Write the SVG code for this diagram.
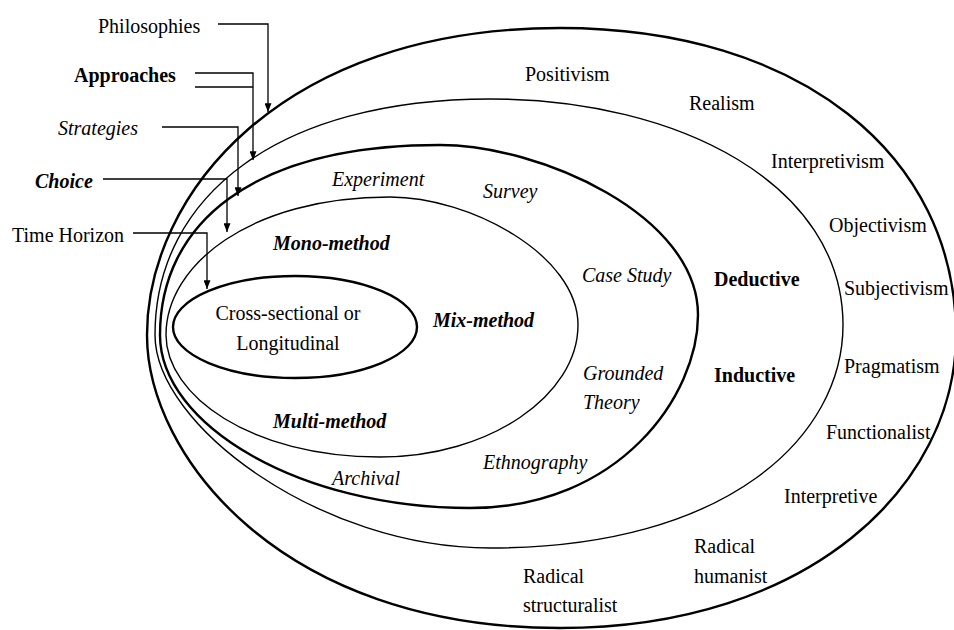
<svg xmlns="http://www.w3.org/2000/svg" width="954" height="630" viewBox="0 0 954 630">
  <style>
    .layer { fill: none; stroke: #000; }
    .thick { stroke-width: 2.4; }
    .thin { stroke-width: 1.4; }
    .link { fill: none; stroke: #000; stroke-width: 1.3; }
    text { font-family: "Liberation Serif", "Times New Roman", serif; font-size: 20px; fill: #000; }
    .b { font-weight: bold; }
    .i { font-style: italic; }
    .bi { font-weight: bold; font-style: italic; }
  </style>
  <defs>
    <marker id="arrow" viewBox="0 0 10 8" refX="10" refY="4" markerWidth="9" markerHeight="7" markerUnits="userSpaceOnUse" orient="auto">
      <path d="M0,0 L10,4 L0,8 Z" fill="#000"/>
    </marker>
  </defs>
  <rect width="954" height="630" fill="#fff"/>

  <!-- Layer 1: philosophies -->
  <g id="philosophies">
    <path class="layer thick" d="M147,335 C147,195 280,28 560,28 C800,28 956,155 956,335 C956,485 810,628 560,628 C280,628 147,455 147,335 Z"/>
    <text x="525" y="81">Positivism</text>
    <text x="689" y="110">Realism</text>
    <text x="771" y="168">Interpretivism</text>
    <text x="829" y="232">Objectivism</text>
    <text x="844" y="295">Subjectivism</text>
    <text x="844" y="373">Pragmatism</text>
    <text x="826" y="439">Functionalist</text>
    <text x="784" y="503">Interpretive</text>
    <text x="694" y="553">Radical</text>
    <text x="694" y="583">humanist</text>
    <text x="523" y="583">Radical</text>
    <text x="523" y="612">structuralist</text>
  </g>

  <!-- Layer 2: approaches -->
  <g id="approaches">
    <path class="layer thin" d="M155,335 C155,195 280,99 490,99 C680,99 843,185 843,325 C843,435 730,548 490,548 C320,548 155,425 155,335 Z"/>
    <text class="b" x="714" y="286">Deductive</text>
    <text class="b" x="714" y="382">Inductive</text>
  </g>

  <!-- Layer 3: strategies -->
  <g id="strategies">
    <path class="layer thick" d="M160,335 C160,225 250,145 440,145 C540,145 698,215 698,315 C698,395 620,508 470,508 C300,508 160,425 160,335 Z"/>
    <text class="i" x="332" y="186">Experiment</text>
    <text class="i" x="483" y="198">Survey</text>
    <text class="i" x="582" y="282">Case Study</text>
    <text class="i" x="583" y="380">Grounded</text>
    <text class="i" x="583" y="409">Theory</text>
    <text class="i" x="483" y="469">Ethnography</text>
    <text class="i" x="332" y="485">Archival</text>
  </g>

  <!-- Layer 4: choices -->
  <g id="choices">
    <path class="layer thin" d="M166,335 C166,265 250,197 390,197 C470,197 578,255 578,325 C578,395 490,457 380,457 C250,457 166,395 166,335 Z"/>
    <text class="bi" x="273" y="250">Mono-method</text>
    <text class="bi" x="433" y="327">Mix-method</text>
    <text class="bi" x="273" y="428">Multi-method</text>
  </g>

  <!-- Core: time horizon -->
  <g id="time-horizon">
    <ellipse class="layer thick" cx="295" cy="327" rx="122" ry="51"/>
    <text x="288" y="320" text-anchor="middle">Cross-sectional or</text>
    <text x="288" y="350" text-anchor="middle">Longitudinal</text>
  </g>

  <!-- Side labels -->
  <g id="labels">
    <text x="98" y="33">Philosophies</text>
    <text class="b" x="74" y="82">Approaches</text>
    <text class="i" x="58" y="135">Strategies</text>
    <text class="bi" x="35" y="188">Choice</text>
    <text x="12" y="242">Time Horizon</text>
  </g>

  <!-- Leader lines to each layer -->
  <g id="connectors">
    <path class="link" d="M218,24 H268 V112" marker-end="url(#arrow)"/>
    <path class="link" d="M195,73 H253 V160" marker-end="url(#arrow)"/>
    <path class="link" d="M195,87 H253"/>
    <path class="link" d="M162,127 H238 V196" marker-end="url(#arrow)"/>
    <path class="link" d="M103,179 H227 V232" marker-end="url(#arrow)"/>
    <path class="link" d="M133,233 H207 V289" marker-end="url(#arrow)"/>
  </g>
</svg>
